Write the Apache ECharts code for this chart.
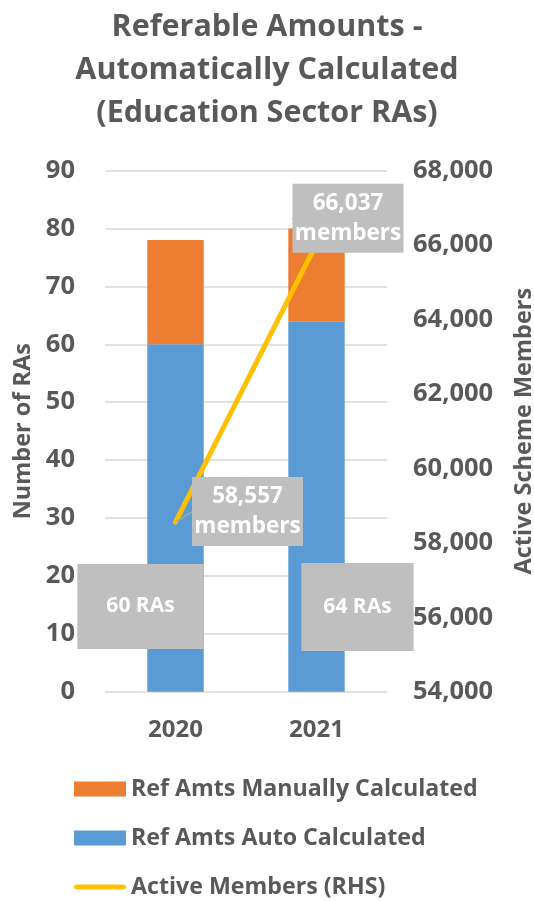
<!DOCTYPE html>
<html>
<head>
<meta charset="utf-8">
<script src="https://cdn.jsdelivr.net/npm/echarts@6/dist/echarts.min.js"></script>
<style>
html,body{margin:0;padding:0;background:#fff;}
#c{width:534px;height:901px;}
</style>
</head>
<body>
<div id="c"></div>
<script>
const categories = ['2020', '2021'];
const autoCalc = [60, 64];
const manualCalc = [18, 16];
const activeMembers = [58557, 66037];
const leftTicks = {min: 0, max: 90, interval: 10};
const rightTicks = {min: 54000, max: 68000, interval: 2000};
const titleText = 'Referable Amounts -\nAutomatically Calculated\n(Education Sector RAs)';
const seriesNames = ['Ref Amts Manually Calculated', 'Ref Amts Auto Calculated', 'Active Members (RHS)'];

const FONT = '"Open Sans"';
const GREY = '#595959';
const LABEL_BG = '#BFBFBF';

const fmt = v => v.toString().replace(/\B(?=(\d{3})+(?!\d))/g, ',');

const autoOffsets = [[-35, 88.5], [41, 100.5]];
const autoPadding = [[30, 29, 31, 29], [32, 22, 32, 22]];
const lineOffsets = [[72, -10.5], [31.5, -25.5]];

const chart = echarts.init(document.getElementById('c'), null, {renderer: 'canvas'});
chart.setOption({
  animation: false,
  backgroundColor: '#fff',
  textStyle: {fontFamily: FONT},
  title: {
    text: titleText,
    left: 'center',
    top: 1,
    textStyle: {fontFamily: FONT, fontSize: 30.5, fontWeight: 'bold', color: GREY, lineHeight: 43}
  },
  grid: {left: 105, right: 147, top: 170.6, bottom: 209.3, outerBoundsMode: 'none', containLabel: false},
  legend: {
    orient: 'vertical',
    left: 74,
    top: 776,
    height: 140,
    padding: 0,
    itemWidth: 52,
    itemHeight: 15,
    itemGap: 23,
    textStyle: {fontFamily: FONT, fontSize: 23.2, fontWeight: 'bold', color: GREY, lineHeight: 26, padding: [0, 0, 0, 0]},
    data: [
      {name: seriesNames[0], icon: 'rect'},
      {name: seriesNames[1], icon: 'rect'},
      {name: seriesNames[2], icon: 'path://M2.5,0 L50.5,0 A2.5,2.5 0 0 1 50.5,5 L2.5,5 A2.5,2.5 0 0 1 2.5,0 Z'}
    ]
  },
  xAxis: {
    type: 'category',
    data: categories,
    axisLine: {show: false},
    axisTick: {show: false},
    axisLabel: {fontFamily: FONT, fontSize: 24, fontWeight: 'bold', color: GREY, margin: 26}
  },
  yAxis: [
    {
      type: 'value',
      min: leftTicks.min, max: leftTicks.max, interval: leftTicks.interval,
      name: 'Number of RAs',
      nameLocation: 'middle',
      nameRotate: 90,
      nameGap: 58,
      nameTextStyle: {fontFamily: FONT, fontSize: 23.5, color: GREY, fontWeight: 'bold'},
      axisLine: {show: false},
      axisTick: {show: false},
      axisLabel: {fontFamily: FONT, fontSize: 25.5, fontWeight: 'bold', color: GREY, margin: 30},
      splitLine: {lineStyle: {color: '#D9D9D9', width: 1.5}}
    },
    {
      type: 'value',
      position: 'right',
      min: rightTicks.min, max: rightTicks.max, interval: rightTicks.interval,
      name: 'Active Scheme Members',
      nameLocation: 'middle',
      nameRotate: 90,
      nameGap: 125,
      nameTextStyle: {fontFamily: FONT, fontSize: 23.5, color: GREY, fontWeight: 'bold'},
      axisLine: {show: false},
      axisTick: {show: false},
      axisLabel: {fontFamily: FONT, fontSize: 25.5, fontWeight: 'bold', color: GREY, margin: 26, formatter: v => fmt(v)},
      splitLine: {show: false}
    }
  ],
  series: [
    {
      name: seriesNames[1],
      type: 'bar',
      stack: 'ra',
      barWidth: '40%',
      itemStyle: {color: '#5B9BD5'},
      data: autoCalc.map((v, i) => ({
        value: v,
        label: {
          show: true,
          position: 'inside',
          offset: autoOffsets[i],
          formatter: p => p.value + ' RAs',
          fontFamily: FONT, fontSize: 21, fontWeight: 'bold', color: '#fff',
          backgroundColor: LABEL_BG,
          padding: autoPadding[i],
          lineHeight: 24
        }
      }))
    },
    {
      name: seriesNames[0],
      type: 'bar',
      stack: 'ra',
      barWidth: '40%',
      itemStyle: {color: '#ED7D31'},
      data: manualCalc
    },
    {
      name: seriesNames[2],
      type: 'line',
      yAxisIndex: 1,
      symbol: 'circle',
      symbolSize: 0,
      showSymbol: true,
      z: 5,
      lineStyle: {color: '#FFC000', width: 5, cap: 'round'},
      itemStyle: {color: '#FFC000'},
      labelLayout: p => ({dx: lineOffsets[p.dataIndex][0], dy: lineOffsets[p.dataIndex][1]}),
      labelLine: {show: true, lineStyle: {color: '#A6A6A6', width: 1.5}},
      label: {
        show: true,
        position: 'inside',
        formatter: p => fmt(p.value) + '\nmembers',
        fontFamily: FONT, fontSize: 22.5, fontWeight: 'bold', color: '#fff',
        backgroundColor: LABEL_BG,
        width: 93,
        align: 'center',
        padding: [4, 9, 5, 9],
        lineHeight: 30
      },
      data: activeMembers
    }
  ]
});
</script>
</body>
</html>
